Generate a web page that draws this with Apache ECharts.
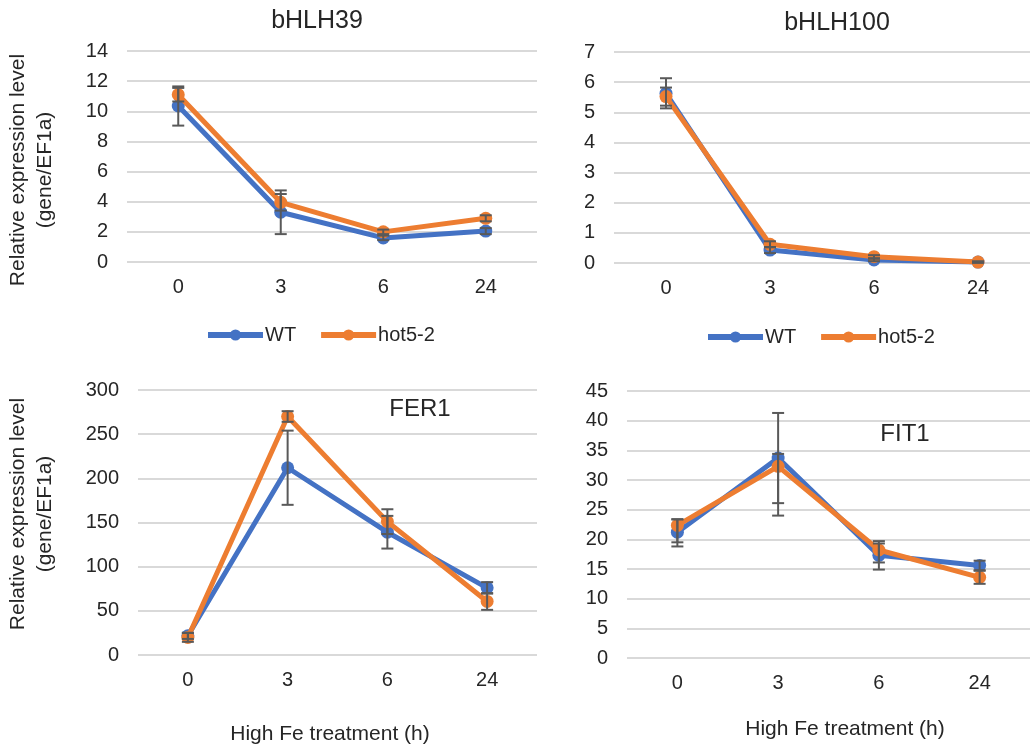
<!DOCTYPE html>
<html>
<head>
<meta charset="utf-8">
<script src="https://cdn.jsdelivr.net/npm/echarts@6/dist/echarts.min.js"></script>
<style>html,body{margin:0;padding:0;background:#fff;}#c{width:1030px;height:749px;}</style>
</head>
<body>
<div id="c"></div>
<script>
// ---------- DATA ----------
const categories = ['0', '3', '6', '24'];
const seriesNames = ['WT', 'hot5-2'];
const panelTitles = ['bHLH39', 'bHLH100', 'FER1', 'FIT1'];

const bHLH39_WT = [10.35, 3.3, 1.6, 2.05];
const bHLH39_WT_up = [1.3, 1.45, 0.15, 0.2];
const bHLH39_WT_down = [1.3, 1.45, 0.15, 0.2];
const bHLH39_hot = [11.1, 3.96, 2.0, 2.9];
const bHLH39_hot_up = [0.45, 0.55, 0.15, 0.2];
const bHLH39_hot_down = [0.45, 0.55, 0.15, 0.2];

const bHLH100_WT = [5.63, 0.43, 0.1, 0.03];
const bHLH100_WT_up = [0.5, 0.1, 0.04, 0.02];
const bHLH100_WT_down = [0.5, 0.1, 0.04, 0.02];
const bHLH100_hot = [5.52, 0.62, 0.21, 0.03];
const bHLH100_hot_up = [0.3, 0.1, 0.05, 0.02];
const bHLH100_hot_down = [0.3, 0.1, 0.05, 0.02];

const FER1_WT = [21.7, 212, 139, 76];
const FER1_WT_up = [3.5, 42, 18.5, 6.5];
const FER1_WT_down = [3.5, 42, 18.5, 6.5];
const FER1_hot = [19.9, 270, 151, 60.6];
const FER1_hot_up = [5, 6, 14, 9.5];
const FER1_hot_down = [5, 6, 14, 9.5];

const FIT1_WT = [21.2, 33.7, 17.3, 15.6];
const FIT1_WT_up = [2.2, 7.6, 2.4, 0.8];
const FIT1_WT_down = [2.4, 7.6, 2.4, 0.8];
const FIT1_hot = [22.35, 32.3, 18.2, 13.6];
const FIT1_hot_up = [1.0, 2.1, 1.1, 1.1];
const FIT1_hot_down = [2.85, 8.3, 2.1, 1.1];

const yTicks = [
  {min: 0, max: 14, interval: 2},
  {min: 0, max: 7, interval: 1},
  {min: 0, max: 300, interval: 50},
  {min: 0, max: 45, interval: 5}
];
const yName = 'Relative expression level\n(gene/EF1a)';
const xName = 'High Fe treatment (h)';

// ---------- STYLE ----------
const FONT = '"Liberation Sans", Arial, sans-serif';
const TXT = '#262626';
const BLUE = '#4472C4';
const ORANGE = '#ED7D31';
const ERR = '#595959';

const grids = [
  {left: 127, right: 493, top: 51, bottom: 487},
  {left: 614, right: -6, top: 52, bottom: 486},
  {left: 138, right: 493, top: 390, bottom: 94},
  {left: 627, right: -7, top: 391, bottom: 91}
];

const panels = [
  {wt: bHLH39_WT, wtUp: bHLH39_WT_up, wtDn: bHLH39_WT_down, hot: bHLH39_hot, hotUp: bHLH39_hot_up, hotDn: bHLH39_hot_down},
  {wt: bHLH100_WT, wtUp: bHLH100_WT_up, wtDn: bHLH100_WT_down, hot: bHLH100_hot, hotUp: bHLH100_hot_up, hotDn: bHLH100_hot_down},
  {wt: FER1_WT, wtUp: FER1_WT_up, wtDn: FER1_WT_down, hot: FER1_hot, hotUp: FER1_hot_up, hotDn: FER1_hot_down},
  {wt: FIT1_WT, wtUp: FIT1_WT_up, wtDn: FIT1_WT_down, hot: FIT1_hot, hotUp: FIT1_hot_up, hotDn: FIT1_hot_down}
];

function errData(vals, up, dn) {
  return vals.map((v, i) => [i, v - dn[i], v + up[i]]);
}
function renderErr(params, api) {
  const x = api.value(0);
  const p1 = api.coord([x, api.value(1)]);
  const p2 = api.coord([x, api.value(2)]);
  const s = {stroke: ERR, lineWidth: 2};
  const w = 6;
  return {
    type: 'group',
    children: [
      {type: 'line', shape: {x1: p1[0], y1: p1[1], x2: p2[0], y2: p2[1]}, style: s},
      {type: 'line', shape: {x1: p1[0] - w, y1: p1[1], x2: p1[0] + w, y2: p1[1]}, style: s},
      {type: 'line', shape: {x1: p2[0] - w, y1: p2[1], x2: p2[0] + w, y2: p2[1]}, style: s}
    ]
  };
}

const xAxes = [], yAxes = [], series = [];
grids.forEach((g, k) => {
  xAxes.push({
    type: 'category', gridIndex: k, data: categories, boundaryGap: true,
    axisLine: {show: false}, axisTick: {show: false},
    axisLabel: {color: TXT, fontSize: 20, fontFamily: FONT, margin: 15}
  });
  yAxes.push({
    type: 'value', gridIndex: k, min: yTicks[k].min, max: yTicks[k].max, interval: yTicks[k].interval,
    axisLine: {show: false}, axisTick: {show: false},
    axisLabel: {color: TXT, fontSize: 20, fontFamily: FONT, margin: 19},
    splitLine: {show: true, lineStyle: {color: '#D9D9D9', width: 2}}
  });
  const p = panels[k];
  const lineCommon = {type: 'line', xAxisIndex: k, yAxisIndex: k, symbol: 'circle', symbolSize: 13, animation: false, z: 3};
  series.push(Object.assign({}, lineCommon, {
    name: seriesNames[0], data: p.wt, itemStyle: {color: BLUE}, lineStyle: {color: BLUE, width: 5}
  }));
  series.push(Object.assign({}, lineCommon, {
    name: seriesNames[1], data: p.hot, itemStyle: {color: ORANGE}, lineStyle: {color: ORANGE, width: 5}, z: 4
  }));
  series.push({
    type: 'custom', xAxisIndex: k, yAxisIndex: k, renderItem: renderErr, z: 5, animation: false,
    data: errData(p.wt, p.wtUp, p.wtDn), encode: {x: 0, y: [1, 2]}, silent: true
  });
  series.push({
    type: 'custom', xAxisIndex: k, yAxisIndex: k, renderItem: renderErr, z: 5, animation: false,
    data: errData(p.hot, p.hotUp, p.hotDn), encode: {x: 0, y: [1, 2]}, silent: true
  });
});

const legendCommon = {
  data: seriesNames, orient: 'horizontal', itemWidth: 55, itemHeight: 14, itemGap: 22, padding: 0,
  lineStyle: {width: 6},
  textStyle: {color: TXT, fontSize: 20, fontFamily: FONT, padding: [0, 0, 0, -3]}
};

function txt(x, y, text, size, rot) {
  return {
    type: 'text', x: x, y: y, rotation: rot || 0,
    style: {text: text, fill: TXT, font: size + 'px ' + FONT, textAlign: 'center', textVerticalAlign: 'middle', lineHeight: 27}
  };
}

const option = {
  backgroundColor: '#fff',
  animation: false,
  grid: grids,
  xAxis: xAxes,
  yAxis: yAxes,
  series: series,
  legend: [
    Object.assign({}, legendCommon, {left: 205, top: 325}),
    Object.assign({}, legendCommon, {left: 705, top: 327})
  ],
  graphic: [
    txt(317, 21, panelTitles[0], 25),
    txt(837, 23, panelTitles[1], 25),
    txt(420, 409, panelTitles[2], 24),
    txt(905, 434, panelTitles[3], 24),
    txt(32, 170, yName, 21, Math.PI / 2),
    txt(32, 514, yName, 21, Math.PI / 2),
    txt(330, 734, xName, 21),
    txt(845, 729, xName, 21)
  ]
};

const chart = echarts.init(document.getElementById('c'), null, {renderer: 'canvas'});
chart.setOption(option);
</script>
</body>
</html>
